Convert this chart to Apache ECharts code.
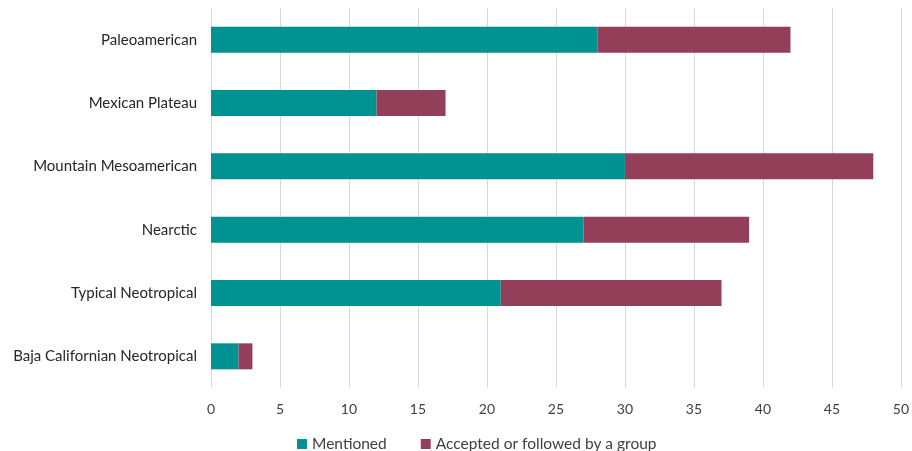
<!DOCTYPE html>
<html><head><meta charset="utf-8">
<script src="https://cdn.jsdelivr.net/npm/echarts@6/dist/echarts.min.js"></script>
<style>html,body{margin:0;padding:0;background:#fff}#c{width:912px;height:451px}</style>
</head><body><div id="c"></div>
<script>
const categories = ["Paleoamerican","Mexican Plateau","Mountain Mesoamerican","Nearctic","Typical Neotropical","Baja Californian Neotropical"];
const mentioned = [28,12,30,27,21,2];
const accepted = [14,5,18,12,16,1];
const seriesNames = ["Mentioned","Accepted or followed by a group"];
const xTicks = {min:0,max:50,interval:5};

const chart = echarts.init(document.getElementById('c'));
const font = 'Lato';
chart.setOption({
  animation:false,
  textStyle:{fontFamily:font},
  grid:{left:211,right:9,top:8,bottom:63},
  legend:{top:431,left:292,itemWidth:10,itemHeight:10,itemGap:34,icon:'rect',
    textStyle:{fontFamily:font,fontSize:15.5,color:'#404040'}},
  xAxis:{type:'value',min:xTicks.min,max:xTicks.max,interval:xTicks.interval,
    axisLine:{show:false},axisTick:{show:false},
    splitLine:{lineStyle:{color:'#d9d9d9',width:1}},
    axisLabel:{fontFamily:font,fontSize:14,color:'#404040',margin:14}},
  yAxis:{type:'category',data:categories,inverse:true,
    axisLine:{show:false},axisTick:{show:false},
    axisLabel:{fontFamily:font,fontSize:15,color:'#262626',margin:14}},
  series:[
    {name:seriesNames[0],type:'bar',stack:'a',data:mentioned,barWidth:26,itemStyle:{color:'#009191'}},
    {name:seriesNames[1],type:'bar',stack:'a',data:accepted,barWidth:26,itemStyle:{color:'#943f5a'}}
  ]
});
</script></body></html>
